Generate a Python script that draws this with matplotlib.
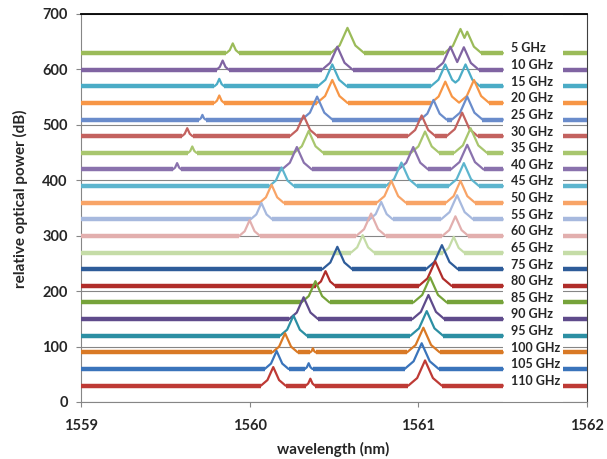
import matplotlib
matplotlib.use('Agg')
import matplotlib.pyplot as plt
import numpy as np
from matplotlib.patches import Rectangle

plt.rcParams['font.family'] = ['Lato', 'DejaVu Sans']

# one trace per modulation frequency, stacked 30 dB apart
labels = ['5 GHz', '10 GHz', '15 GHz', '20 GHz', '25 GHz', '30 GHz', '35 GHz',
          '40 GHz', '45 GHz', '50 GHz', '55 GHz', '60 GHz', '65 GHz', '75 GHz',
          '80 GHz', '85 GHz', '90 GHz', '95 GHz', '100 GHz', '105 GHz', '110 GHz']
baselines = [625, 595, 565, 535, 505, 475, 445, 415, 385, 355, 325,
             295, 265, 235, 205, 175, 145, 115, 85, 55, 25]
colors = ['#9BBB59', '#8064A2', '#4BACC6', '#F79646', '#6A8CCB', '#C3625F',
          '#A8C66E', '#8A72AD', '#5DB5CE', '#F8A467', '#A7B9DE', '#E2AFAE',
          '#C5DCA7', '#2E5C99', '#B02D2A', '#76A33A', '#5F4B8B', '#2C8FA3',
          '#D97925', '#3A74BB', '#BE3A35']

# spectral lines: (wavelength nm, height above floor dB)
peaks = [
    [(1559.90, 22), (1560.58, 50), (1561.25, 48), (1561.29, 43)],
    [(1559.84, 21), (1560.52, 46), (1561.19, 46), (1561.27, 45)],
    [(1559.82, 18), (1560.49, 44), (1561.16, 44), (1561.28, 44)],
    [(1559.82, 18), (1560.49, 46), (1561.16, 43), (1561.33, 46)],
    [(1559.72, 13), (1560.40, 46), (1561.09, 40), (1561.29, 46)],
    [(1559.63, 19), (1560.32, 42), (1561.02, 42), (1561.26, 47)],
    [(1559.66, 16), (1560.35, 44), (1561.04, 43), (1561.31, 49)],
    [(1559.57, 16), (1560.28, 45), (1560.97, 45), (1561.29, 49)],
    [(1560.19, 38), (1560.90, 47), (1561.27, 46)],
    [(1560.13, 37), (1560.84, 44), (1561.25, 44)],
    [(1560.07, 34), (1560.78, 36), (1561.23, 48)],
    [(1560.00, 33), (1560.72, 45), (1561.22, 40)],
    [(1560.67, 36), (1561.21, 33)],
    [(1560.52, 45), (1561.14, 48)],
    [(1560.45, 31), (1561.10, 49)],
    [(1560.39, 43), (1561.07, 50)],
    [(1560.32, 44), (1561.06, 48)],
    [(1560.26, 41), (1561.05, 49)],
    [(1560.21, 39), (1560.375, 12), (1561.03, 49)],
    [(1560.16, 37), (1560.35, 15), (1561.02, 51)],
    [(1560.14, 38), (1560.36, 17), (1561.04, 50)],
]

FLOOR = 4.5          # middle of the noise band above its bottom
S_TOP, S_SKIRT = 680.0, 260.0   # flank slopes, dB per nm
gap_lo, gap_hi = 1561.50, 1561.86   # blank strip under the labels


def line_shape(c, h):
    # sharp tip, wider skirt
    knee = FLOOR + 0.3 * (h - FLOOR)
    a = (h - knee) / S_TOP
    w = a + (knee - FLOOR) / S_SKIRT
    return [(c - w, FLOOR), (c - a, knee), (c, h), (c + a, knee), (c + w, FLOOR)]


def build_trace(base, plist):
    verts = [(1559.0, FLOOR)]
    floor_segs = []
    seg_start = 1559.0
    prev = None
    for c, h in sorted(plist):
        shp = line_shape(c, h)
        if prev is not None and shp[0][0] < verts[-1][0]:
            # flanks overlap: find the dip between the two lines
            pa = np.array(prev).T
            pb = np.array(shp).T
            lo, hi = prev[2][0], c
            for _ in range(50):
                mid = 0.5 * (lo + hi)
                if np.interp(mid, pa[0], pa[1]) > np.interp(mid, pb[0], pb[1]):
                    lo = mid
                else:
                    hi = mid
            xi = 0.5 * (lo + hi)
            yi = np.interp(xi, pb[0], pb[1])
            verts = [v for v in verts if v[0] < xi] + [(xi, yi)]
            verts += [v for v in shp if v[0] > xi]
        else:
            floor_segs.append((seg_start, shp[0][0]))
            verts += shp
        seg_start = shp[-1][0]
        prev = shp
    verts.append((gap_lo, FLOOR))
    floor_segs.append((seg_start, gap_lo))
    floor_segs.append((gap_hi, 1562.0))
    xs = [v[0] for v in verts]
    ys = [base + v[1] for v in verts]
    return xs, ys, floor_segs


fig = plt.figure(figsize=(6.07, 4.59), dpi=100)
ax = fig.add_axes([0.1334, 0.1242, 0.8336, 0.8453])

for lab, base, col, pl in zip(labels, baselines, colors, peaks):
    xs, ys, segs = build_trace(base, pl)
    ax.plot(xs, ys, color=col, lw=1.6, zorder=3)
    for a, b in segs:
        ax.plot([a, b], [base + FLOOR, base + FLOOR], color=col, lw=3.2,
                solid_capstyle='butt', zorder=3)
    ax.text(1561.549, base + 13, lab, fontsize=9, fontweight='bold',
            color='#262626', va='center', ha='left', zorder=5)

# white strip behind the labels hides the gridlines
ax.add_patch(Rectangle((gap_lo, 0), gap_hi - gap_lo, 699, facecolor='white',
                       edgecolor='none', zorder=1))

ax.set_xlim(1559, 1562)
ax.set_ylim(0, 700)
ax.set_xticks([1559, 1560, 1561, 1562])
ax.set_yticks(range(0, 701, 100))
ax.set_axisbelow(True)
ax.yaxis.grid(True, color='#868686', lw=0.8)

ax.tick_params(direction='out', length=3.5, width=0.8, color='#868686',
               labelsize=10.5, labelcolor='#262626')
ax.tick_params(axis='x', pad=9)
ax.tick_params(axis='y', pad=6)
for t in ax.get_xticklabels() + ax.get_yticklabels():
    t.set_fontweight('bold')

ax.spines['left'].set_color('#868686')
ax.spines['bottom'].set_color('#868686')
ax.spines['top'].set_color('black')
ax.spines['top'].set_linewidth(1.3)
ax.spines['right'].set_color('#404040')
ax.spines['right'].set_linewidth(0.8)

ax.set_xlabel('wavelength (nm)', fontsize=11, fontweight='bold', color='#262626')
ax.set_ylabel('relative optical power (dB)', fontsize=11, fontweight='bold',
              color='#262626')
ax.xaxis.set_label_coords(0.498, -0.104)
ax.yaxis.set_label_coords(-0.105, 0.525)

fig.savefig('out.png', dpi=100)
